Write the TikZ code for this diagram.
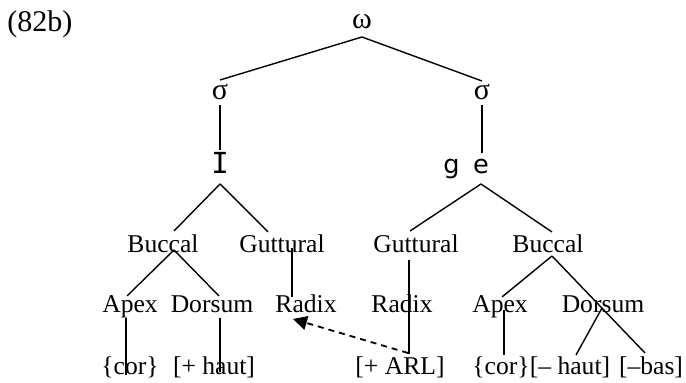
\documentclass[tikz,border=0pt]{standalone}
\usepackage{fontspec}
\setmainfont{Liberation Serif}
\newfontfamily\ipafont{DejaVu Sans}
\newfontfamily\ipamono{DejaVu Sans Mono}
\usetikzlibrary{arrows.meta,calc}

\begin{document}
\begin{tikzpicture}[
  x=0.5pt,y=-0.5pt,
  lbl/.style={inner sep=0pt,anchor=base,font=\fontsize{12.8}{15}\selectfont},
  greek/.style={lbl,font=\fontsize{15}{18}\selectfont},
  ipa/.style={lbl,font=\ipafont\fontsize{12.8}{15}\selectfont},
  seg/.style={line width=0.7pt},
  arr/.style={-{Triangle[length=7pt,width=7pt]},line width=0.9pt,dash pattern=on 3pt off 2.5pt}
]
\useasboundingbox (0,0) rectangle (686,383);
\node[lbl,anchor=base west,font=\fontsize{15}{18}\selectfont] (ex) at (7,32) {(82b)};
% prosodic levels
\node[greek] (om) at (362,29) {ω};
\node[greek] (sL) at (220,100) {σ};
\node[greek] (sR) at (482,100) {σ};
\node[lbl,font=\ipamono\fontsize{14.5}{17}\selectfont] (vI) at (220,174) {I};
\node[ipa] (e) at (481,174) {e};
\node[ipa,anchor=base east] (g) at (460,174) {g};
% articulators
\node[lbl] (bucL) at (163,253) {Buccal};
\node[lbl] (gutL) at (282,253) {Guttural};
\node[lbl] (gutR) at (416,253) {Guttural};
\node[lbl] (bucR) at (548,253) {Buccal};
\node[lbl] (apxL) at (130,313) {Apex};
\node[lbl] (dorL) at (212,313) {Dorsum};
\node[lbl] (radL) at (306,313) {Radix};
\node[lbl] (radR) at (402,313) {Radix};
\node[lbl] (apxR) at (500,313) {Apex};
\node[lbl] (dorR) at (603,313) {Dorsum};
% features
\node[lbl] (corL) at (130,375) {\{cor\}};
\node[lbl] (hautL) at (214,375) {[+ haut]};
\node[lbl] (arl) at (400,375) {[+ ARL]};
\node[lbl] (corR) at (501,375) {\{cor\}};
\node[lbl] (hautR) at (570,375) {[– haut]};
\node[lbl] (bas) at (651,375) {[–bas]};

\draw[seg] ($(om.base)+(0,8)$) -- ($(sL.base)+(0,-20)$);
\draw[seg] ($(om.base)+(0,8)$) -- ($(sR.base)+(0,-19)$);
\draw[seg] ($(sL.base)+(0,5)$) -- ($(vI.base)+(0,-24)$);
\draw[seg] ($(sR.base)+(0,5)$) -- ($(e.base)+(1,-21)$);
\draw[seg] ($(vI.base)+(0,10)$) -- ($(bucL.base)+(11,-22)$);
\draw[seg] ($(vI.base)+(0,10)$) -- ($(gutL.base)+(-14,-21)$);
\draw[seg] ($(e.base)+(0,10)$) -- ($(gutR.base)+(-6,-22)$);
\draw[seg] ($(e.base)+(0,10)$) -- ($(bucR.base)+(4,-21)$);
\draw[seg] ($(bucL.base)+(11,-3)$) -- ($(apxL.base)+(-3,-17)$);
\draw[seg] ($(bucL.base)+(11,-3)$) -- ($(dorL.base)+(7,-17)$);
\draw[seg] ($(gutL.base)+(10,-5)$) -- ($(radL.base)+(-14,-16)$);
\draw[seg] ($(apxL.base)+(-4,5)$) -- ($(corL.base)+(-4,0)$);
\draw[seg] ($(dorL.base)+(8,5)$) -- ($(hautL.base)+(6,-3)$);
\draw[seg] ($(gutR.base)+(-7,7)$) -- ($(arl.base)+(9,-21)$);
\draw[seg] ($(bucR.base)+(4,3)$) -- ($(apxR.base)+(2,-16)$);
\draw[seg] ($(bucR.base)+(4,3)$) -- ($(bas.base)+(-6,-22)$);
\draw[seg] ($(apxR.base)+(4,-3)$) -- ($(corR.base)+(3,-20)$);
\draw[seg] ($(dorR.base)+(-1,-5)$) -- ($(hautR.base)+(6,-20)$);
\draw[arr] ($(arl.base)+(8,-22)$) -- ($(radL.base)+(-13,6)$);
\end{tikzpicture}
\end{document}
